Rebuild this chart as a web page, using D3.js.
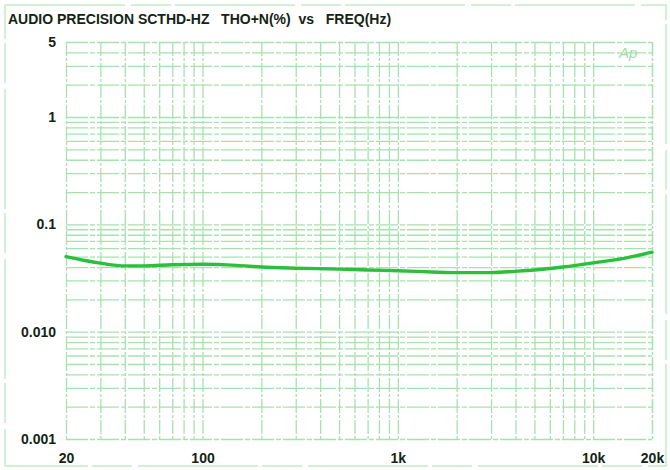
<!DOCTYPE html>
<html>
<head>
<meta charset="utf-8">
<script src="https://cdn.jsdelivr.net/npm/d3@7"></script>
<style>
body { margin: 0; background: #fff; }
svg { display: block; font-family: "Liberation Sans", Arial, sans-serif; }
</style>
</head>
<body>
<div id="chart"></div>
<script>
// THD+N vs frequency
var freqs = [20, 25, 30, 40, 50, 70, 100, 150, 200, 300, 500, 700, 1000, 1500, 2000, 3000, 4000, 5000, 7000, 10000, 15000, 20000];
var thdn  = [0.050, 0.046, 0.0435, 0.041, 0.041, 0.042, 0.0425, 0.0415, 0.040, 0.039, 0.0383, 0.0375, 0.037, 0.036, 0.0355, 0.0355, 0.0365, 0.0375, 0.040, 0.0437, 0.049, 0.055];

var xTickValues = [20, 100, 1000, 10000, 20000];
var xTickLabels = ["20", "100", "1k", "10k", "20k"];
var yTickValues = [5, 1, 0.1, 0.01, 0.001];
var yTickLabels = ["5", "1", "0.1", "0.010", "0.001"];

var titleText = "AUDIO PRECISION SCTHD-HZ   THO+N(%)  vs   FREQ(Hz)";

var gridColor = "#a6e1ae";

var svg = d3.select("#chart").append("svg")
	.attr("width", 670)
	.attr("height", 470);

// scanned page border
svg.append("rect")
	.attr("x", 5).attr("y", 5)
	.attr("width", 661).attr("height", 461)
	.style("fill", "none")
	.style("stroke", "#c4ecc9")
	.style("stroke-width", 1.5)
	.style("stroke-dasharray", "120,6,40,4");

var xScale = d3.scaleLog()
	.domain([20, 20000])
	.range([66, 652]);

var yScale = d3.scaleLog()
	.domain([0.001, 5])
	.range([439, 42]);

// minor grid values 1..9 per decade
var xGrid = [];
[10, 100, 1000, 10000].forEach(function(d) {
	for (var k = 1; k <= 9; k++) {
		var v = d * k;
		if (v >= 20 && v <= 20000) xGrid.push(v);
	}
});
xGrid.push(20000);

var yGrid = [];
[0.001, 0.01, 0.1, 1].forEach(function(d) {
	for (var k = 1; k <= 9; k++) {
		var v = +(d * k).toPrecision(3);
		if (v <= 5) yGrid.push(v);
	}
});

var gx = svg.append("g")
	.attr("transform", "translate(0,42)")
	.call(d3.axisBottom(xScale).tickValues(xGrid).tickSize(439 - 42).tickFormat(""));
gx.select(".domain").remove();
gx.selectAll("line")
	.style("stroke", gridColor)
	.style("stroke-width", 1.3)
	.style("stroke-dasharray", "14,2,3,2");

var gy = svg.append("g")
	.attr("transform", "translate(66,0)")
	.call(d3.axisRight(yScale).tickValues(yGrid).tickSize(652 - 66).tickFormat(""));
gy.select(".domain").remove();
gy.selectAll("line")
	.style("stroke", gridColor)
	.style("stroke-width", 1.3)
	.style("stroke-dasharray", "22,2,5,2");

// tick labels
var xLab = svg.append("g")
	.attr("transform", "translate(0,463)")
	.call(d3.axisBottom(xScale).tickValues(xTickValues).tickSize(0)
		.tickFormat(function(d, i) { return xTickLabels[i]; }));
xLab.select(".domain").remove();
xLab.selectAll("text")
	.attr("y", 0).attr("dy", 0)
	.style("font-size", "14px")
	.style("font-weight", "bold")
	.style("fill", "#142414");

var yLab = svg.append("g")
	.attr("transform", "translate(56,0)")
	.call(d3.axisLeft(yScale).tickValues(yTickValues).tickSize(0)
		.tickFormat(function(d, i) { return yTickLabels[i]; }));
yLab.select(".domain").remove();
yLab.selectAll("text")
	.attr("x", 0)
	.style("font-size", "14px")
	.style("font-weight", "bold")
	.style("fill", "#142414");

// title
svg.append("text")
	.attr("x", 8)
	.attr("y", 24)
	.style("white-space", "pre")
	.style("font-size", "14px")
	.style("font-weight", "bold")
	.style("fill", "#142414")
	.text(titleText);

// Ap logo
svg.append("text")
	.attr("x", 619)
	.attr("y", 58)
	.style("font-size", "15px")
	.style("font-style", "italic")
	.style("fill", "#9fdca8")
	.text("Ap");

// curve
var line = d3.line()
	.x(function(d, i) { return xScale(freqs[i]); })
	.y(function(d) { return yScale(d); })
	.curve(d3.curveMonotoneX);

svg.append("path")
	.datum(thdn)
	.attr("d", line)
	.style("fill", "none")
	.style("stroke", "#2cbf3c")
	.style("stroke-width", 3.4)
	.style("stroke-linecap", "round");
</script>
</body>
</html>
